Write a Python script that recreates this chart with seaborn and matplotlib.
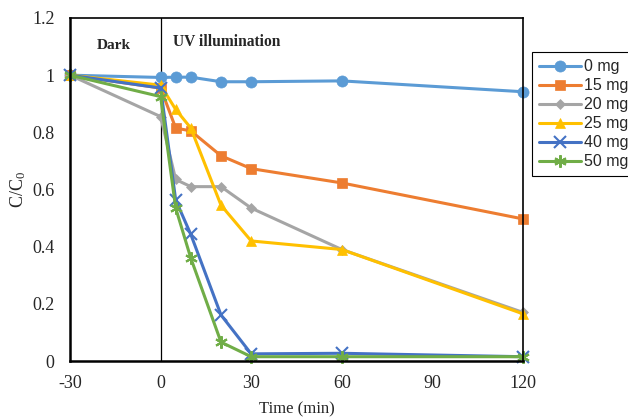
import matplotlib
matplotlib.use("Agg")
import matplotlib.pyplot as plt
import seaborn as sns
import pandas as pd

time = [-30, 0, 5, 10, 20, 30, 60, 120]
labels = ["0 mg", "15 mg", "20 mg", "25 mg", "40 mg", "50 mg"]
c_0mg = [1.0, 0.992, 0.993, 0.993, 0.977, 0.977, 0.980, 0.942]
c_15mg = [1.0, 0.955, 0.815, 0.805, 0.718, 0.673, 0.623, 0.497]
c_20mg = [1.0, 0.855, 0.635, 0.610, 0.610, 0.535, 0.390, 0.170]
c_25mg = [1.0, 0.965, 0.880, 0.815, 0.545, 0.420, 0.390, 0.165]
c_40mg = [1.0, 0.955, 0.563, 0.443, 0.161, 0.025, 0.027, 0.015]
c_50mg = [1.0, 0.925, 0.535, 0.360, 0.066, 0.015, 0.015, 0.015]
series = [c_0mg, c_15mg, c_20mg, c_25mg, c_40mg, c_50mg]
x_ticks = [-30, 0, 30, 60, 90, 120]
y_ticks = [0, 0.2, 0.4, 0.6, 0.8, 1.0, 1.2]
y_tick_labels = ["0", "0.2", "0.4", "0.6", "0.8", "1", "1.2"]

colors = ["#5B9BD5", "#ED7D31", "#A5A5A5", "#FFC000", "#4472C4", "#70AD47"]
markers = ["o", "s", "D", "^", "x", (6, 2, 0)]
msizes = [8, 7, 5, 7.5, 8, 9]

sns.set_style("white")
plt.rcParams["font.family"] = ["Liberation Serif", "DejaVu Serif"]
plt.rcParams["mathtext.fontset"] = "custom"
plt.rcParams["mathtext.rm"] = "Liberation Serif"
plt.rcParams["mathtext.it"] = "Liberation Serif:italic"

fig = plt.figure(figsize=(6.28, 4.19), dpi=100)
ax = fig.add_axes([70 / 628, 1 - 361 / 419, (523 - 70) / 628, (361 - 18) / 419])

for lab, vals, col, mk, ms in zip(labels, series, colors, markers, msizes):
    df = pd.DataFrame({"Time": time, "C": vals})
    sns.lineplot(data=df, x="Time", y="C", ax=ax, color=col, marker=mk,
                 markersize=ms, linewidth=2.2, label=lab, clip_on=False,
                 markeredgecolor=col, markeredgewidth=1.5 if mk in ("x", (6, 2, 0)) else 0.5)

ax.axvline(0, color="black", linewidth=0.9, zorder=0.5)
ax.set_xlim(-30, 120)
ax.set_ylim(0, 1.2)
ax.set_xticks(x_ticks)
ax.set_xticklabels([str(t) for t in x_ticks])
ax.set_yticks(y_ticks)
ax.set_yticklabels(y_tick_labels)
ax.tick_params(axis="both", labelsize=13, length=4, width=1, color="black")
ax.tick_params(axis="x", direction="in", pad=10)
ax.tick_params(axis="y", direction="out", pad=7)
for s in ax.spines.values():
    s.set_color("black")
    s.set_linewidth(1.2)
ax.spines["left"].set_linewidth(1.8)
ax.spines["bottom"].set_linewidth(1.8)

ax.set_xlabel("Time (min)", fontsize=12, labelpad=7)
ax.set_ylabel(r"C/C$_\mathregular{0}$", fontsize=13, labelpad=3.2)

ax.text(-21, 1.105, "Dark", fontsize=11, fontweight="bold", ha="left", va="center")
ax.text(4, 1.115, "UV illumination", fontsize=11.2, fontweight="bold", ha="left", va="center")

handles, labs = ax.get_legend_handles_labels()
ax.get_legend().remove()
leg = fig.legend(handles, labs, loc="upper left", bbox_to_anchor=(532 / 628, 1 - 52 / 419),
                 frameon=True, fancybox=False, edgecolor="black", framealpha=1,
                 prop={"family": "Liberation Sans", "size": 11.5},
                 handlelength=2.6, handletextpad=0.2, borderpad=0.45, labelspacing=0.25,
                 borderaxespad=0)
leg.get_frame().set_linewidth(0.8)

fig.savefig("out.png", dpi=100)
